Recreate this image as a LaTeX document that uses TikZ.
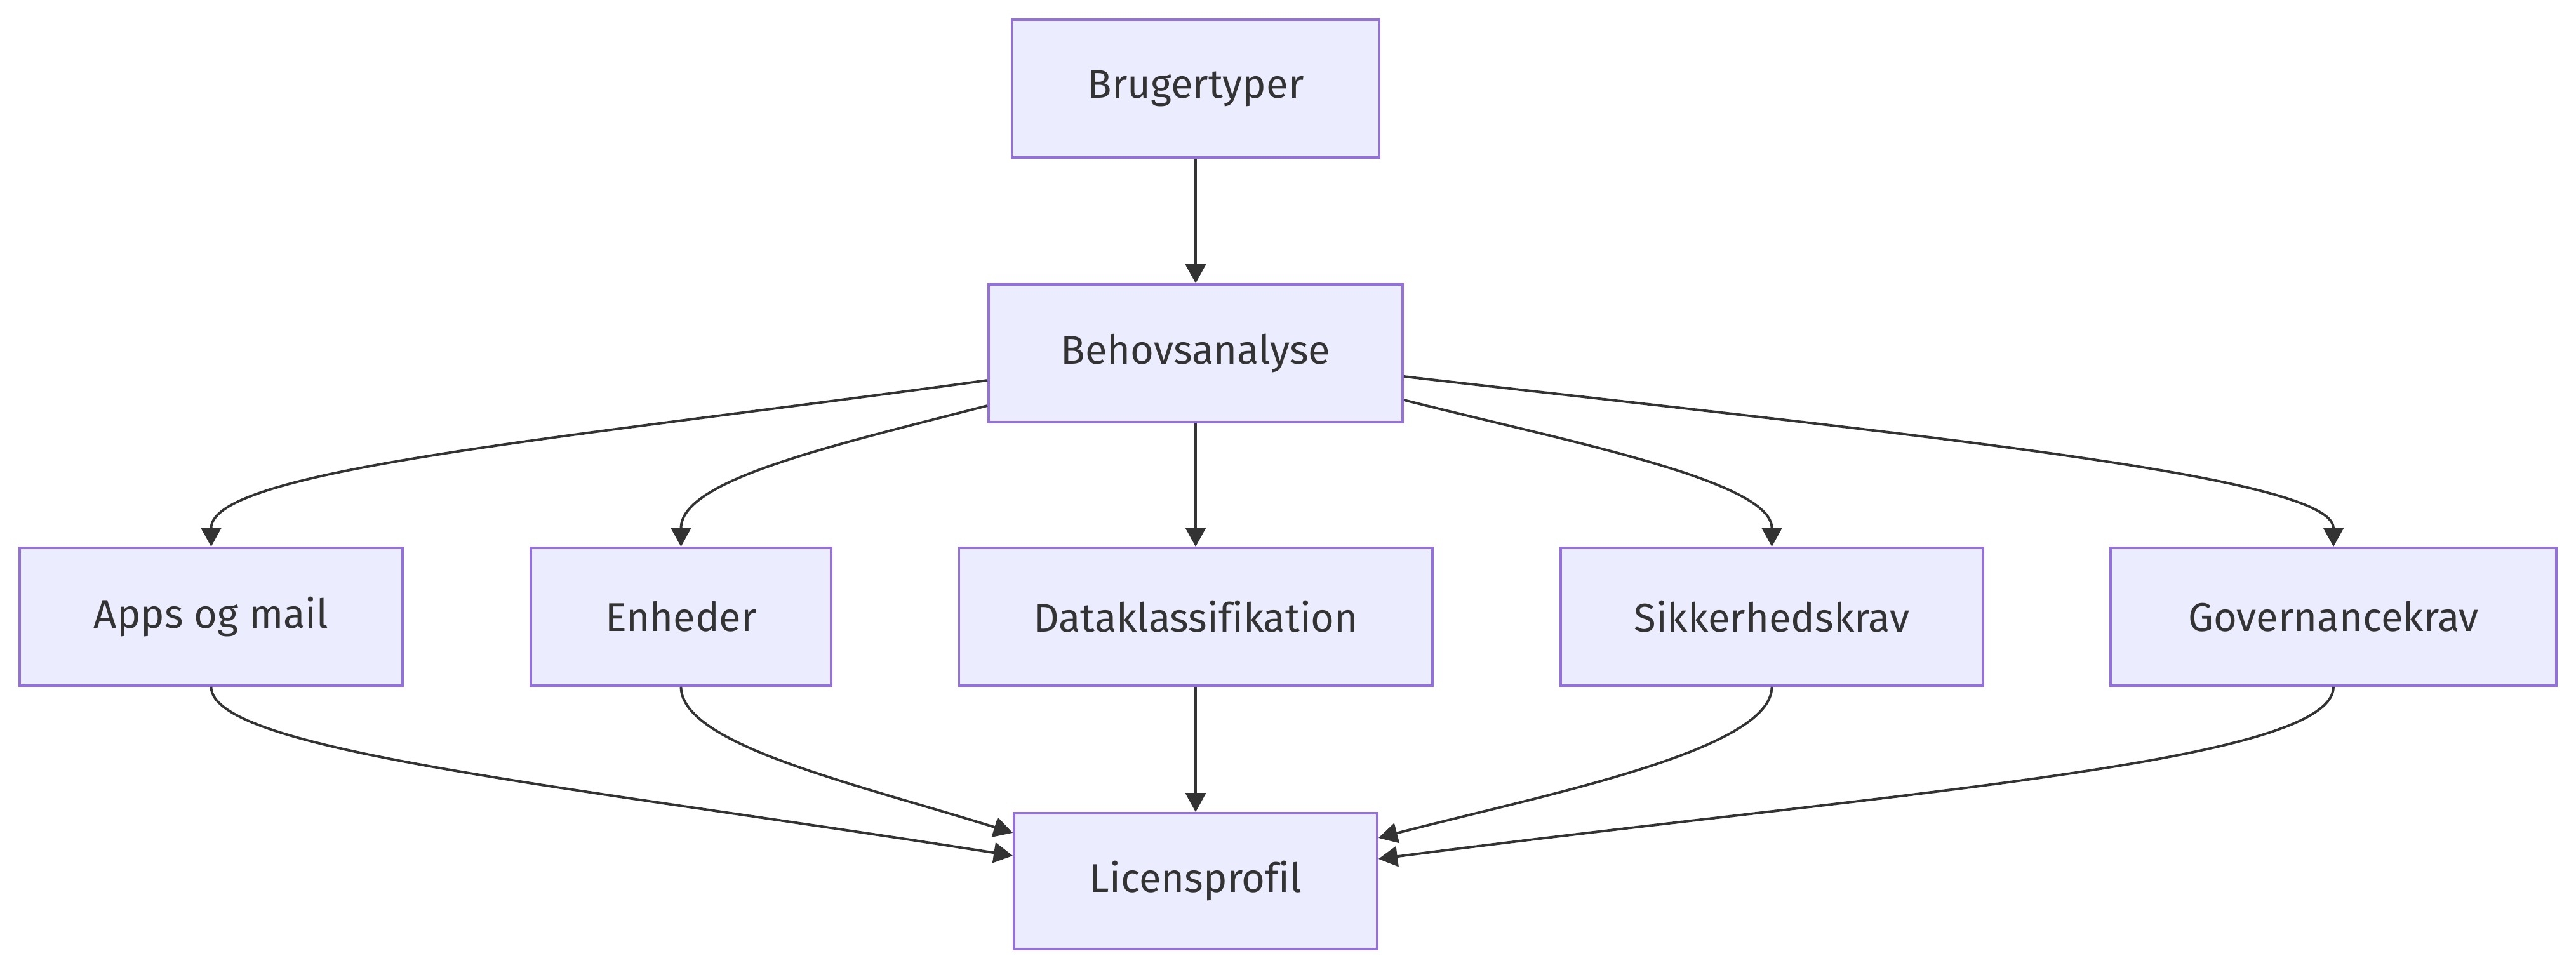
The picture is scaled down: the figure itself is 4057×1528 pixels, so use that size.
\documentclass[tikz,border=0pt]{standalone}
\usepackage{fontspec}
\setmainfont[Ligatures=NoCommon]{Fira Sans}
\usetikzlibrary{arrows.meta}

\definecolor{boksrand}{HTML}{9370DB}
\definecolor{boksfyld}{HTML}{ECECFF}
\definecolor{linje}{HTML}{333333}

\tikzset{
	boks/.style={draw=boksrand, fill=boksfyld, line width=1pt, text=linje,
		font=\fontsize{18}{22}\selectfont, minimum height=2.17cm, inner sep=0pt},
	pil/.style={draw=linje, line width=1.1pt, -{Triangle[length=0.3cm, width=0.32cm]}}
}

\begin{document}
\begin{tikzpicture}[x=0.01cm, y=-0.01cm]
				\useasboundingbox (0,0) rectangle (4057,1528);
				
				% Kasser
				\node[boks, minimum width=5.79cm] (brug) at (1883,139.5) {Brugertyper};
				\node[boks, minimum width=6.52cm] (beh) at (1883,556.5) {Behovsanalyse};
				\node[boks, minimum width=6.03cm] (apps) at (332.5,971.5) {Apps og mail};
				\node[boks, minimum width=4.73cm] (enh) at (1072.5,971.5) {Enheder};
				\node[boks, minimum width=7.45cm] (data) at (1883,971.5) {Dataklassifikation};
				\node[boks, minimum width=6.65cm] (sik) at (2790.5,971.5) {Sikkerhedskrav};
				\node[boks, minimum width=7.02cm] (gov) at (3675,971.5) {Governancekrav};
				\node[boks, minimum width=5.72cm, minimum height=2.14cm] (lic) at (1883,1388) {Licensprofil};
				
				% Pile ned til behovsanalysen og videre
				\draw[pil] (brug) -- (beh);
				\draw[pil] ([yshift=-0.425cm]beh.west) .. controls +(-659,91) and +(0,-122) .. (apps.north);
				\draw[pil] ([yshift=-0.825cm]beh.west) .. controls +(-257,66) and +(0,-104) .. (enh.north);
				\draw[pil] (beh) -- (data);
				\draw[pil] ([yshift=-0.735cm]beh.east) .. controls +(260,66) and +(0,-104) .. (sik.north);
				\draw[pil] ([yshift=-0.365cm]beh.east) .. controls +(800,92) and +(0,-112) .. (gov.north);
				
				% Pile samles i licensprofilen
				\draw[pil] (apps.south) .. controls +(0,101) and +(-703,-111) .. ([yshift=0.4cm]lic.west);
				\draw[pil] (enh.south) .. controls +(0,91) and +(-250,-78) .. ([yshift=0.76cm]lic.west);
				\draw[pil] (data) -- (lic);
				\draw[pil] (sik.south) .. controls +(0,101) and +(260,-68) .. ([yshift=0.68cm]lic.east);
				\draw[pil] (gov.south) .. controls +(0,121) and +(800,-104) .. ([yshift=0.35cm]lic.east);
\end{tikzpicture}
\end{document}
